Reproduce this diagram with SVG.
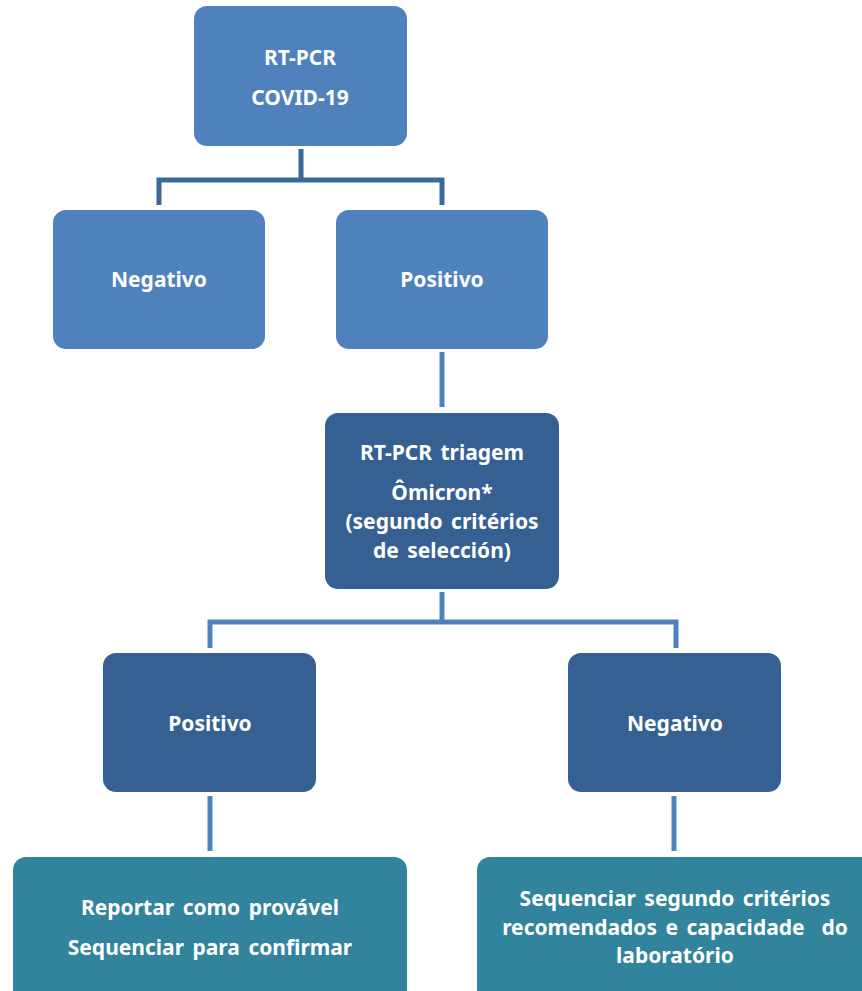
<svg xmlns="http://www.w3.org/2000/svg" width="862" height="991" viewBox="0 0 862 991">
<style>
.l1{fill:#4F81BD}
.l2{fill:#376092}
.l3{fill:#31849B}
.t{font-family:"Noto Sans","Open Sans",sans-serif;font-weight:bold;font-size:21px;word-spacing:3px;fill:#FFFFFF;text-anchor:middle}
.c1{stroke:#3C699B;stroke-width:5;fill:none}
.c2{stroke:#4F81BD;stroke-width:5;fill:none}
</style>
<rect width="862" height="991" fill="#FFFFFF"/>
<g id="connectors">
<path class="c1" d="M301 149V180M159 205V180H442V205"/>
<path class="c2" d="M442 352V407"/>
<path class="c2" d="M442 592V622M210 648V622H676V648"/>
<path class="c2" d="M210 796V851"/>
<path class="c2" d="M674 796V851"/>
</g>
<g id="n1"><rect class="l1" x="194" y="6" width="213" height="140" rx="13"/>
<text class="t" x="300" y="65">RT-PCR</text><text class="t" x="300" y="105">COVID-19</text></g>
<g id="n2"><rect class="l1" x="53" y="210" width="212" height="139" rx="13"/>
<text class="t" x="159" y="287">Negativo</text></g>
<g id="n3"><rect class="l1" x="336" y="210" width="212" height="139" rx="13"/>
<text class="t" x="442" y="287">Positivo</text></g>
<g id="n4"><rect class="l2" x="325" y="413" width="234" height="176" rx="13"/>
<text class="t" x="442" y="460">RT-PCR triagem</text>
<text class="t" x="442" y="500">Ômicron*</text>
<text class="t" x="442" y="529">(segundo critérios</text>
<text class="t" x="442" y="558">de selección)</text></g>
<g id="n5"><rect class="l2" x="103" y="653" width="213" height="139" rx="13"/>
<text class="t" x="210" y="731">Positivo</text></g>
<g id="n6"><rect class="l2" x="568" y="653" width="213" height="139" rx="13"/>
<text class="t" x="675" y="731">Negativo</text></g>
<g id="n7"><rect class="l3" x="13" y="857" width="394" height="150" rx="13"/>
<text class="t" x="210" y="915">Reportar como provável</text>
<text class="t" x="210" y="955">Sequenciar para confirmar</text></g>
<g id="n8"><rect class="l3" x="477" y="857" width="400" height="150" rx="13"/>
<text class="t" x="675" y="906">Sequenciar segundo critérios</text>
<text class="t" x="675" y="935">recomendados e capacidade&#160; do</text>
<text class="t" x="675" y="963">laboratório</text></g>
</svg>
